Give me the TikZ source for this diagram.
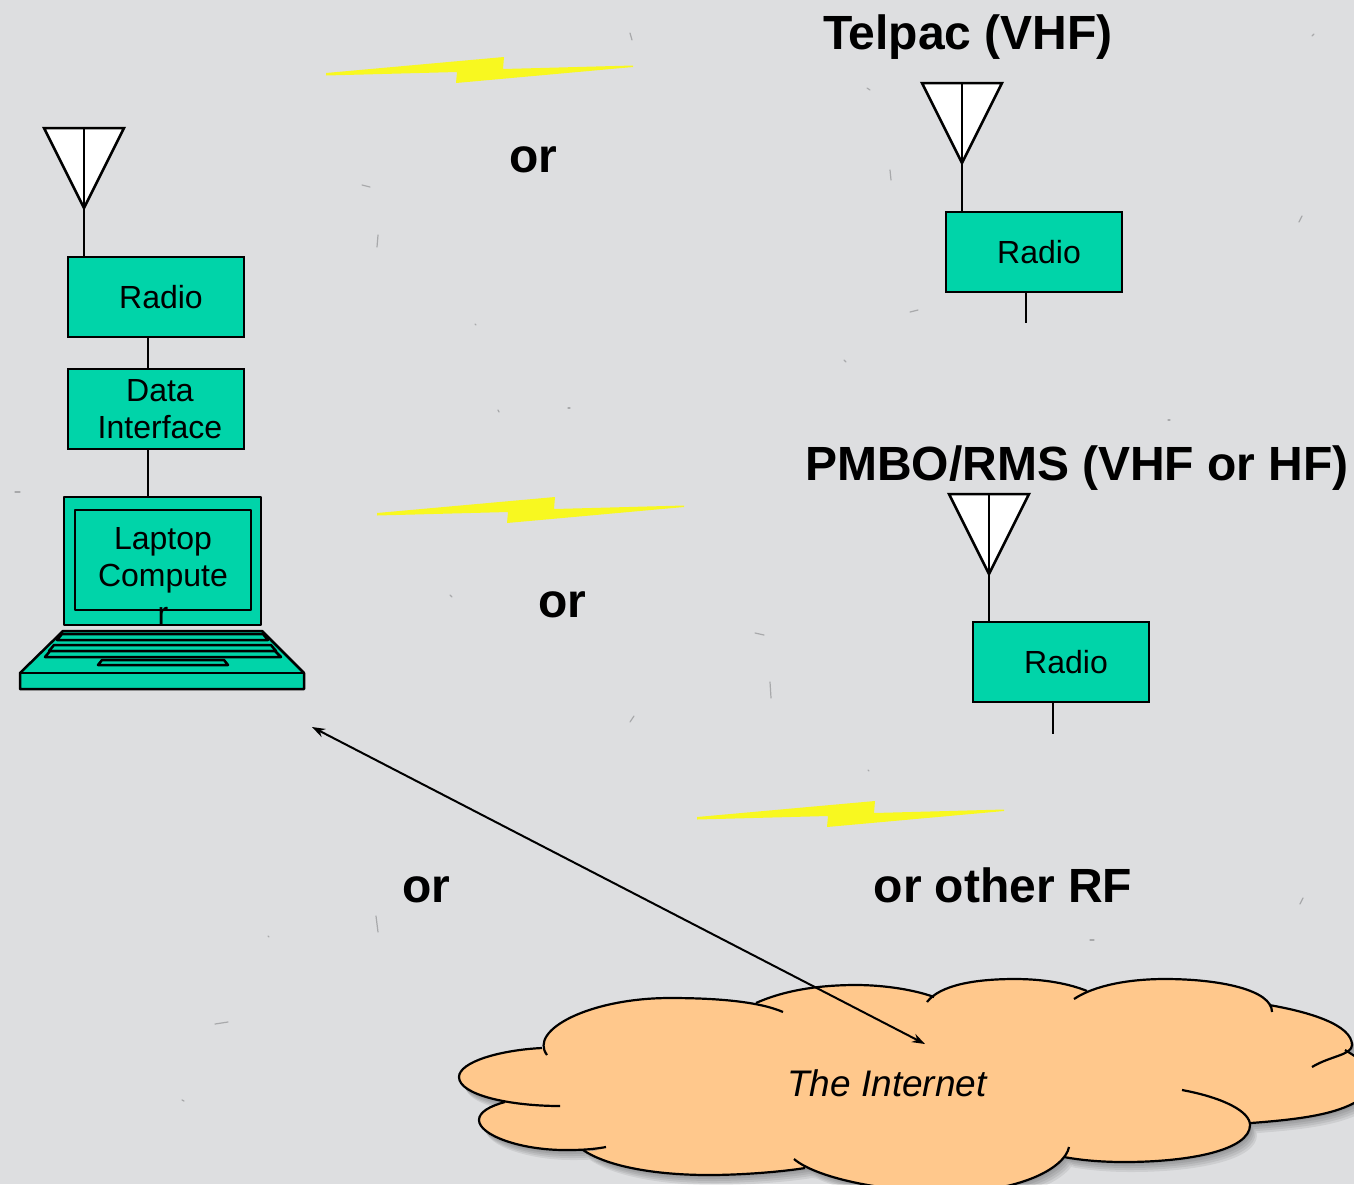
\documentclass[tikz,border=0pt]{standalone}
\usepackage{fontspec}
\setmainfont{Liberation Sans}
\usetikzlibrary{arrows.meta}
\definecolor{bgc}{HTML}{DDDEE0}
\definecolor{teal1}{HTML}{00D4A9}
\definecolor{cloudc}{HTML}{FFC88C}
\definecolor{bolt}{HTML}{F8F820}
\definecolor{speck}{HTML}{A8A9AB}
\tikzset{
  x=1pt,y=-1pt,
  box/.style={draw=black,line width=2.5pt,fill=teal1,minimum width=176pt,minimum height=80pt,inner sep=0pt,align=center,font=\fontsize{32}{37}\selectfont},
  wire/.style={draw=black,line width=2.5pt},
  antenna/.style={draw=black,line width=2.5pt,fill=white,line join=miter},
  laptop/.style={draw=black,line width=2.5pt,fill=teal1,line join=round},
  boltshape/.style={fill=bolt},
  head/.style={font=\fontsize{48}{54}\selectfont\bfseries,inner sep=0pt},
  cloudline/.style={draw=black,line width=2.2pt},
  speckmark/.style={draw=speck,line width=1.2pt,line cap=round},
}
\newcommand\cloudA{(547,1055) .. controls (528,1030) and (590,998) .. (670,998) .. controls (720,998) and (760,1002) .. (783,1012)}
\newcommand\cloudB{(756,1003) .. controls (785,990) and (820,985) .. (856,985) .. controls (885,985) and (915,990) .. (934,997)}
\newcommand\cloudC{(927,1002) .. controls (940,985) and (975,979) .. (1015,979) .. controls (1045,979) and (1070,984) .. (1087,991)}
\newcommand\cloudD{(1074,999) .. controls (1095,985) and (1130,979) .. (1165,979) .. controls (1220,979) and (1272,990) .. (1272,1012)}
\newcommand\cloudE{(1269,1005) .. controls (1310,1012) and (1352,1025) .. (1352,1045) .. controls (1352,1055) and (1330,1056) .. (1312,1067)}
\newcommand\cloudF{(1345,1050) .. controls (1365,1062) and (1400,1085) .. (1354,1103) .. controls (1330,1116) and (1290,1120) .. (1251,1123)}
\newcommand\cloudG{(1182,1090) .. controls (1225,1098) and (1250,1112) .. (1250,1125) .. controls (1250,1150) and (1190,1162) .. (1124,1162) .. controls (1100,1162) and (1080,1160) .. (1064,1157)}
\newcommand\cloudH{(1069,1147) .. controls (1065,1168) and (1020,1192) .. (950,1192) .. controls (880,1192) and (815,1177) .. (794,1159)}
\newcommand\cloudI{(805,1168) .. controls (780,1172) and (740,1175) .. (709,1175) .. controls (650,1175) and (605,1165) .. (583,1150)}
\newcommand\cloudJ{(606,1147) .. controls (590,1150) and (575,1150) .. (565,1150) .. controls (520,1150) and (479,1135) .. (479,1120) .. controls (479,1112) and (490,1106) .. (505,1102)}
\newcommand\cloudK{(560,1106) .. controls (510,1106) and (459,1095) .. (459,1077) .. controls (459,1062) and (500,1050) .. (542,1048)}
\newcommand\cloudCore{(547,1055) -- (600,1015) -- (756,1003) -- (934,997) -- (1087,991) -- (1269,1005) -- (1345,1050) -- (1251,1123) -- (1124,1160) -- (1064,1155) -- (950,1185) -- (805,1168) -- (709,1173) -- (583,1148) -- (565,1148) -- (490,1125) -- (505,1102) -- (470,1077) -- (542,1048) -- cycle}
\newcommand\cloudAll{\cloudA \cloudB \cloudC \cloudD \cloudE \cloudF \cloudG \cloudH \cloudI \cloudJ \cloudK \cloudCore}
\newcommand\boltPath{(326,73) -- (504,57) -- (503,69) -- (633,65.5) -- (633,67) -- (456,83) -- (457,72) -- (326,75.5) -- cycle}
\begin{document}
\begin{tikzpicture}
\clip (0,0) rectangle (1354,1184);
\fill[bgc] (0,0) rectangle (1354,1184);
% paper specks
\foreach \a/\b/\c/\d in {630/33/632/40,362/185/370/187,378/235/377/247,475/324/476/325,844/360/846/362,867/88/870/90,890/170/891/180,1312/36/1314/34,1302/216/1299/222,15/492/20/492,450/595/452/597,770/682/771/698,630/722/634/716,376/916/378/932,1300/904/1303/898,1090/940/1094/940,182/1100/184/1101,215/1024/228/1022,268/936/269/937,568/408/570/408,910/312/918/310,755/633/764/635,868/770/869/771,1168/420/1170/420,498/410/499/412}
  {\draw[speckmark] (\a,\b) -- (\c,\d);}
% lightning bolts
\fill[boltshape] \boltPath;
\begin{scope}[shift={(51,440)}]\fill[boltshape] \boltPath;\end{scope}
\begin{scope}[shift={(371,744)}]\fill[boltshape] \boltPath;\end{scope}
% labels
\node[head] (telpac) at (968,37) {Telpac (VHF)};
\node[head] (pmbo) at (1077,468) {PMBO/RMS (VHF or HF)};
\node[head] (or1) at (533,160) {or};
\node[head] (or2) at (562,605) {or};
\node[head] (or3) at (426,890) {or};
\node[head] (orrf) at (1003,885) {or other RF};
% left station
\node[box] (radioA) at (156,297) {\hspace*{10pt}Radio};
\node[box] (dataA) at (156,409) {\hspace*{8pt}Data\\\hspace*{8pt}Interface};
\node[laptop,minimum width=197pt,minimum height=128pt,inner sep=0pt] (screen) at (162.5,561) {};
\node[laptop,minimum width=176pt,minimum height=100pt,inner sep=0pt] (inner) at (163,560) {};
\draw[laptop] (63,631) -- (262,631) -- (304,673) -- (304,689) -- (20,689) -- (20,673) -- cycle;
\draw[wire] (20,673) -- (304,673);
\draw[laptop] (62,634) -- (263,634) -- (268,640) -- (57,640) -- cycle;
\draw[laptop] (54,645) -- (271,645) -- (276,651) -- (49,651) -- cycle;
\draw[laptop] (50,651) -- (275,651) -- (281,657) -- (45,657) -- cycle;
\draw[laptop] (102,660) -- (224,660) -- (228,665) -- (98,665) -- cycle;
\node[align=center,font=\fontsize{32}{37.5}\selectfont,inner sep=0pt,anchor=north] (laptoplabel) at (163,527) {Laptop\\Compute\\r};
\draw[antenna] (44,128) -- (124,128) -- (84,208) -- cycle;
\coordinate (antA) at (84,128);
\draw[wire] (antA) -- (antA |- radioA.north);
\draw[wire] ([xshift=-8pt]radioA.south) -- ([xshift=-8pt]dataA.north);
\draw[wire] ([xshift=-8pt]dataA.south) -- (148,497);
% Telpac station
\node[box] (radioB) at (1034,252) {\hspace*{10pt}Radio};
\draw[antenna] (922,83) -- (1002,83) -- (962,163) -- cycle;
\coordinate (antB) at (962,83);
\draw[wire] (antB) -- (antB |- radioB.north);
\coordinate (stubB) at (1026,323);
\draw[wire] (stubB |- radioB.south) -- (stubB);
% PMBO station
\node[box] (radioC) at (1061,662) {\hspace*{10pt}Radio};
\draw[antenna] (949,494) -- (1029,494) -- (989,574) -- cycle;
\coordinate (antC) at (989,494);
\draw[wire] (antC) -- (antC |- radioC.north);
\coordinate (stubC) at (1053,734);
\draw[wire] (stubC |- radioC.south) -- (stubC);
% cloud
\foreach \s in {2,4,6,8,10}{
  \begin{scope}[shift={(\s*0.7,\s)}]
    \fill[black,opacity=0.07] \cloudAll;
  \end{scope}
}
\fill[cloudc] \cloudAll;
\draw[cloudline] \cloudA;
\draw[cloudline] \cloudB;
\draw[cloudline] \cloudC;
\draw[cloudline] \cloudD;
\draw[cloudline] \cloudE;
\draw[cloudline] \cloudF;
\draw[cloudline] \cloudG;
\draw[cloudline] \cloudH;
\draw[cloudline] \cloudI;
\draw[cloudline] \cloudJ;
\draw[cloudline] \cloudK;
\node[font=\fontsize{37}{42}\selectfont\itshape,inner sep=0pt] (internet) at (887,1083) {The Internet};
% link
\coordinate (linkA) at (312,727);
\coordinate (linkB) at (925,1044);
\draw[line width=2pt,{Stealth[length=13pt,width=9pt]}-{Stealth[length=13pt,width=9pt]}] (linkA) -- (linkB);
\end{tikzpicture}
\end{document}
